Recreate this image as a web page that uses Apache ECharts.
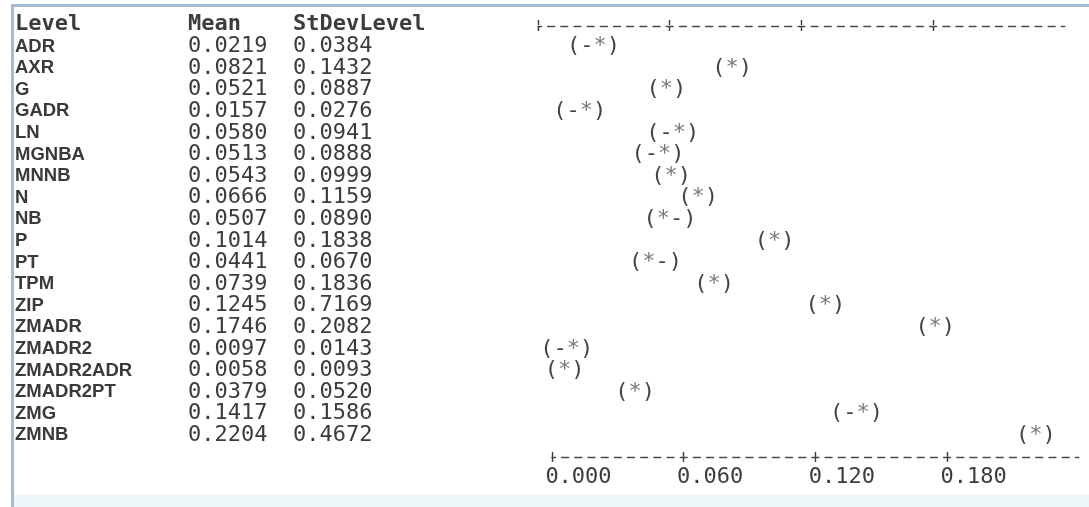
<!DOCTYPE html>
<html>
<head>
<meta charset="utf-8">
<title>Means by level</title>
<script src="https://cdn.jsdelivr.net/npm/echarts@6/dist/echarts.min.js"></script>
<style>
  html, body { margin: 0; padding: 0; background: #fff; }
  #chart { width: 1089px; height: 507px; }
</style>
</head>
<body>
<div id="chart"></div>
<script>
const levels = ['ADR', 'AXR', 'G', 'GADR', 'LN', 'MGNBA', 'MNNB', 'N', 'NB', 'P', 'PT', 'TPM', 'ZIP', 'ZMADR', 'ZMADR2', 'ZMADR2ADR', 'ZMADR2PT', 'ZMG', 'ZMNB']
const means = [0.0219, 0.0821, 0.0521, 0.0157, 0.0580, 0.0513, 0.0543, 0.0666, 0.0507, 0.1014, 0.0441, 0.0739, 0.1245, 0.1746, 0.0097, 0.0058, 0.0379, 0.1417, 0.2204]
const stdevs = [0.0384, 0.1432, 0.0887, 0.0276, 0.0941, 0.0888, 0.0999, 0.1159, 0.0890, 0.1838, 0.0670, 0.1836, 0.7169, 0.2082, 0.0143, 0.0093, 0.0520, 0.1586, 0.4672]
// text drawn for each interval, '*' sits on the mean
const ciGlyphs = ['(-*)', '(*)', '(*)', '(-*)', '(-*)', '(-*)', '(*)', '(*)', '(*-)', '(*)', '(*-)', '(*)', '(*)', '(*)', '(-*)', '(*)', '(*)', '(-*)', '(*)']
const tickValues = [0, 0.06, 0.12, 0.18]

const MONO = '"DejaVu Sans Mono", monospace'
const SANS = '"Liberation Sans", Arial, sans-serif'
const MONO_SIZE = 22
const CHAR_W = MONO_SIZE * 0.602
const TEXT = '#3c3c3c'

// column starts of the text table
const COL_LEVEL = 15
const COL_MEAN = 188
const COL_SD = 293

const ROW_H = 21.6
const FIRST_ROW = 46.5
const gridTop = FIRST_ROW - ROW_H / 2
const gridHeight = ROW_H * levels.length
const rulerY = gridTop + gridHeight + ROW_H / 2
const X0 = 552
const PLOT_W = 526.8

const chart = echarts.init(document.getElementById('chart'))

// one axis draws the dashed line plus the upper half of each '+', the other the lower half
function rulerAxes(gridIndex, position, offset) {
  const tick = { color: '#3a3a3a', width: 1.4 }
  return [
    {
      type: 'value',
      gridIndex,
      position,
      offset,
      min: 0,
      max: 0.24,
      axisLine: { show: true, lineStyle: { color: '#4a4a4a', width: 1.4, type: [7, 6.17], dashOffset: 3.5 } },
      axisTick: { show: true, inside: true, length: 5, customValues: tickValues, lineStyle: tick },
      axisLabel: { show: false },
      splitLine: { show: false }
    },
    {
      type: 'value',
      gridIndex,
      position,
      offset,
      min: 0,
      max: 0.24,
      axisLine: { show: true, lineStyle: { opacity: 0 } },
      axisTick: { show: true, inside: false, length: 5, customValues: tickValues, lineStyle: tick },
      axisLabel: { show: false },
      splitLine: { show: false }
    }
  ]
}

const option = {
  animation: false,
  backgroundColor: '#fff',
  title: {
    left: COL_LEVEL,
    top: 12,
    padding: 0,
    text: '{a|Level}{b|Mean}{c|StDevLevel}',
    textStyle: {
      rich: {
        a: { width: COL_MEAN - COL_LEVEL, fontFamily: MONO, fontSize: MONO_SIZE, color: TEXT, lineHeight: 24 },
        b: { width: COL_SD - COL_MEAN, fontFamily: MONO, fontSize: MONO_SIZE, color: TEXT, lineHeight: 24 },
        c: { fontFamily: MONO, fontSize: MONO_SIZE, color: TEXT, lineHeight: 24 }
      }
    }
  },
  graphic: [
    { type: 'rect', z: -10, shape: { x: 14, y: 494, width: 1075, height: 13 }, style: { fill: '#f0f7fb' } },
    { type: 'rect', z: -5, shape: { x: 11, y: 4, width: 1078, height: 3 }, style: { fill: '#a7bbd0' } },
    { type: 'rect', z: -5, shape: { x: 11, y: 4, width: 3, height: 503 }, style: { fill: '#aeb9c6' } }
  ],
  grid: [
    { left: X0, width: PLOT_W, top: gridTop, height: gridHeight },
    { left: X0 - 14, width: PLOT_W, top: 25, height: 1 },
    { left: X0 - CHAR_W / 2, width: PLOT_W, top: gridTop, height: gridHeight }
  ],
  xAxis: [
    ...rulerAxes(0, 'bottom', rulerY - gridTop - gridHeight),
    ...rulerAxes(1, 'top', 0),
    {
      type: 'value',
      gridIndex: 2,
      position: 'bottom',
      offset: rulerY - gridTop - gridHeight,
      min: 0,
      max: 0.24,
      axisLine: { show: false },
      axisTick: { show: false },
      splitLine: { show: false },
      axisLabel: {
        customValues: tickValues,
        formatter: (v) => v.toFixed(3),
        align: 'left',
        margin: 9,
        fontFamily: MONO,
        fontSize: MONO_SIZE,
        color: TEXT
      }
    }
  ],
  yAxis: [
    {
      type: 'category',
      data: levels,
      inverse: true,
      axisLine: { show: false },
      axisTick: { show: false },
      splitLine: { show: false },
      axisLabel: {
        interval: 0,
        align: 'left',
        margin: X0 - COL_LEVEL,
        formatter: (value, idx) => `{n|${value}}{m|${means[idx].toFixed(4)}}{s|${stdevs[idx].toFixed(4)}}`,
        rich: {
          n: { width: COL_MEAN - COL_LEVEL, fontFamily: SANS, fontWeight: 'bold', fontSize: 18.5, color: '#3a3a3a' },
          m: { width: COL_SD - COL_MEAN, fontFamily: MONO, fontSize: MONO_SIZE, color: TEXT },
          s: { fontFamily: MONO, fontSize: MONO_SIZE, color: TEXT }
        }
      }
    },
    { type: 'value', gridIndex: 1, show: false },
    { type: 'value', gridIndex: 2, show: false }
  ],
  series: [
    {
      type: 'custom',
      xAxisIndex: 0,
      yAxisIndex: 0,
      data: levels.map((name, i) => [means[i], i]),
      renderItem: (params, api) => {
        const p = api.coord([api.value(0), api.value(1)])
        const glyph = ciGlyphs[params.dataIndex]
        const star = glyph.indexOf('*')
        const font = `${MONO_SIZE}px ${MONO}`
        return {
          type: 'group',
          children: [
            { type: 'text', style: { text: glyph.slice(0, star), x: p[0] - CHAR_W / 2, y: p[1], align: 'right', verticalAlign: 'middle', font, fill: '#444' } },
            { type: 'text', style: { text: '*', x: p[0], y: p[1], align: 'center', verticalAlign: 'middle', font, fill: '#777' } },
            { type: 'text', style: { text: glyph.slice(star + 1), x: p[0] + CHAR_W / 2, y: p[1], align: 'left', verticalAlign: 'middle', font, fill: '#444' } }
          ]
        }
      }
    }
  ]
}

chart.setOption(option)
</script>
</body>
</html>
